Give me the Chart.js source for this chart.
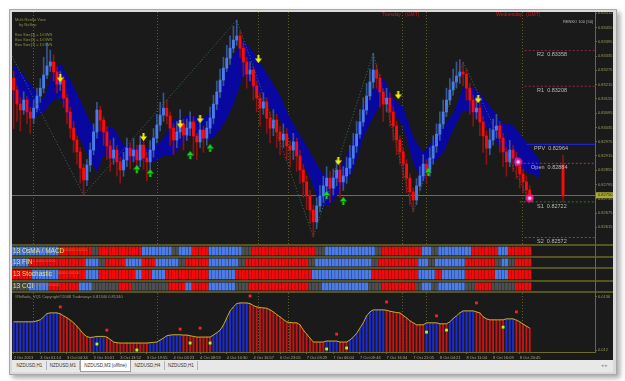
<!DOCTYPE html>
<html>
<head>
<meta charset="utf-8">
<title>NZDUSD,M3 (offline)</title>
<script src="https://cdn.jsdelivr.net/npm/chart.js@4.4.1/dist/chart.umd.min.js"></script>
<style>
  body { margin: 0; width: 625px; height: 381px; background: #ffffff; overflow: hidden; font-family: 'Liberation Sans', Arial, sans-serif; }
  #frame { position: absolute; left: 9px; top: 9px; width: 606px; height: 364px; background: #dadada; border: 1px solid #a8a8a8; box-shadow: 3px 3px 5px rgba(0,0,0,0.35); }
  #pane { position: absolute; left: 12px; top: 12px; width: 601px; height: 348px; background: #1a1a1a; }
  canvas { position: absolute; left: 12px; }
  .sep { position: absolute; left: 12px; width: 601px; height: 2px; background: #55551f; }
  .txt { position: absolute; white-space: nowrap; line-height: 1; }
  .olive { color: #8e8e3e; font-size: 4px; }
  .day { color: #c81e1e; font-size: 5px; top: 12px; }
  .strip { color: #e4e070; font-size: 6.5px; left: 13px; }
  .zero { color: #c87020; font-size: 3.5px; }
  #tabs { position: absolute; left: 12px; top: 360px; width: 601px; height: 12px; background: #e8e8e8; }
  .tab { position: absolute; top: 361px; height: 9px; line-height: 9px; font-size: 4.5px; color: #333; text-align: center; border-right: 1px solid #b4b4b4; }
  .tab.on { top: 360px; height: 11px; line-height: 11px; background: #ffffff; border: 1px solid #a0a0a0; border-top: none; }
</style>
</head>
<body>
<div id="frame"></div>
<div id="pane"></div>

<canvas id="mainChart" width="601" height="232" style="top:12px"></canvas>
<div class="sep" style="top:244px"></div>
<canvas id="osmaStrip" width="601" height="10" style="top:246px"></canvas>
<div class="sep" style="top:256px"></div>
<canvas id="finStrip" width="601" height="9" style="top:258px"></canvas>
<div class="sep" style="top:267px"></div>
<canvas id="stochStrip" width="601" height="11" style="top:269px"></canvas>
<div class="sep" style="top:280px"></div>
<canvas id="cciStrip" width="601" height="9" style="top:282px"></canvas>
<div class="sep" style="top:291px"></div>
<canvas id="vqChart" width="601" height="67" style="top:293px"></canvas>
<div style="position:absolute;left:595px;top:12px;width:1px;height:340px;background:#6b6b2b"></div>

<div class="txt olive" style="left:15px;top:18px">Multi Renko View</div>
<div class="txt olive" style="left:19px;top:23px">by NoSep</div>
<div class="txt olive" style="left:15px;top:33px">Box Size[3] = DOWN</div>
<div class="txt olive" style="left:15px;top:38px">Box Size[5] = DOWN</div>
<div class="txt olive" style="left:15px;top:43px">Box Size[7] = DOWN</div>
<div class="txt day" style="left:382px">Tuesday</div>
<div class="txt day" style="left:405px">(GMT)</div>
<div class="txt day" style="left:496px">Wednesday</div>
<div class="txt day" style="left:526px">(GMT)</div>
<div class="txt" style="left:563px;top:20px;font-size:4px;color:#b8b8b8">RENKO 100 (50)</div>

<div class="txt strip" style="top:248px">13 OsMA / MACD</div>
<div class="txt zero" style="left:61px;top:249px">0.00000 0.00000</div>
<div class="txt strip" style="top:259px">13 FIN</div>
<div class="txt zero" style="left:33px;top:260px">0.0000 0.0000</div>
<div class="txt strip" style="top:271px">13 Stochastic</div>
<div class="txt zero" style="left:53px;top:272px">0.00000 0.00000</div>
<div class="txt strip" style="top:283px">13 CCI</div>
<div class="txt zero" style="left:33px;top:284px">0.00000 0.00000</div>
<div class="txt" style="left:15px;top:295px;font-size:4px;color:#9a9a66">#Rellada_VQ1 Copyright©2008 Tradeways 0.81340 0.81340</div>

<div id="tabs"></div>
<div class="tab" style="left:13px;width:33px">NZDUSD,H1</div>
<div class="tab" style="left:47px;width:32px">NZDUSD,M1</div>
<div class="tab on" style="left:80px;width:49px">NZDUSD,M3 (offline)</div>
<div class="tab" style="left:131px;width:33px">NZDUSD,H4</div>
<div class="tab" style="left:165px;width:32px">NZDUSD,H1</div>
<div class="txt" style="left:601px;top:363px;font-size:5px;color:#999;font-family:'DejaVu Sans'">◂ ▸</div>

<script>
// prices are in points (1e-5), candle index 0 = 2 Oct 2013
const opens = [
  83242, 83192, 83133, 83108, 83150, 83100, 83074, 83116, 83167, 83200,
  83255, 83293, 83310, 83268, 83217, 83234, 83158, 83100, 83032, 82982,
  82932, 82864, 82814, 82877, 82940, 83016, 83108, 83066, 83016, 82957,
  82906, 82940, 82890, 82856, 82898, 82948, 82915, 82940, 82898, 82961,
  82906, 82890, 82940, 82990, 83045, 83087, 83116, 83083, 83032, 82982,
  83016, 83049, 83003, 83032, 83058, 82999, 82974, 83024, 82990, 83032,
  83074, 83133, 83184, 83234, 83284, 83326, 83368, 83402, 83419, 83368,
  83310, 83259, 83276, 83209, 83158, 83116, 83142, 83074, 83032, 83066,
  83016, 82982, 83007, 82957, 82940, 82974, 82915, 82856, 82806, 82747,
  82688, 82638, 82705, 82747, 82789, 82822, 82780, 82822, 82856, 82806,
  82831, 82864, 82906, 82957, 83007, 83058, 83108, 83167, 83226, 83276,
  83242, 83184, 83133, 83158, 83100, 83041, 82982, 82932, 82881, 82822,
  82764, 82730, 82789, 82831, 82881, 82856, 82906, 82957, 83007, 83049,
  83100, 83150, 83192, 83226, 83251, 83268, 83259, 83200, 83150, 83100,
  83116, 83058, 82999, 82948, 82982, 83024, 83041, 82990, 82932, 82890,
  82940, 82906, 82873, 82839, 82806, 82772
];
const closes = [
  83192, 83133, 83108, 83150, 83100, 83074, 83116, 83167, 83200, 83255,
  83293, 83310, 83268, 83217, 83234, 83158, 83100, 83032, 82982, 82932,
  82864, 82814, 82877, 82940, 83016, 83108, 83066, 83016, 82957, 82906,
  82940, 82890, 82856, 82898, 82948, 82915, 82940, 82898, 82961, 82906,
  82890, 82940, 82990, 83045, 83087, 83116, 83083, 83032, 82982, 83016,
  83049, 83003, 83032, 83058, 82999, 82974, 83024, 82990, 83032, 83074,
  83133, 83184, 83234, 83284, 83326, 83368, 83402, 83419, 83368, 83310,
  83259, 83276, 83209, 83158, 83116, 83142, 83074, 83032, 83066, 83016,
  82982, 83007, 82957, 82940, 82974, 82915, 82856, 82806, 82747, 82688,
  82638, 82705, 82747, 82789, 82822, 82780, 82822, 82856, 82806, 82831,
  82864, 82906, 82957, 83007, 83058, 83108, 83167, 83226, 83276, 83242,
  83184, 83133, 83158, 83100, 83041, 82982, 82932, 82881, 82822, 82764,
  82730, 82789, 82831, 82881, 82856, 82906, 82957, 83007, 83049, 83100,
  83150, 83192, 83226, 83251, 83268, 83259, 83200, 83150, 83100, 83116,
  83058, 82999, 82948, 82982, 83024, 83041, 82990, 82932, 82890, 82940,
  82906, 82873, 82839, 82806, 82772, 82747
];
const highs = [
  83270, 83210, 83160, 83185, 83165, 83120, 83150, 83200, 83240, 83330,
  83390, 83360, 83340, 83290, 83270, 83250, 83175, 83120, 83060, 83000,
  82950, 82880, 82900, 82970, 83050, 83140, 83125, 83080, 83040, 82980,
  82990, 82960, 82910, 82930, 82990, 82970, 82990, 82960, 83000, 82990,
  82930, 82980, 83030, 83090, 83140, 83180, 83150, 83100, 83050, 83060,
  83110, 83070, 83070, 83100, 83080, 83010, 83060, 83040, 83060, 83120,
  83170, 83230, 83280, 83330, 83380, 83420, 83460, 83486, 83440, 83390,
  83330, 83310, 83290, 83230, 83180, 83180, 83160, 83100, 83110, 83090,
  83040, 83050, 83030, 82980, 83010, 82990, 82940, 82880, 82830, 82770,
  82710, 82740, 82790, 82830, 82870, 82850, 82860, 82900, 82880, 82870,
  82910, 82960, 83010, 83060, 83110, 83160, 83220, 83280, 83347, 83300,
  83260, 83200, 83200, 83180, 83120, 83060, 83000, 82950, 82900, 82840,
  82780, 82820, 82870, 82920, 82900, 82950, 83000, 83050, 83100, 83150,
  83200, 83240, 83280, 83310, 83320, 83310, 83280, 83220, 83170, 83160,
  83140, 83080, 83020, 83030, 83070, 83090, 83060, 83010, 82950, 82980,
  82960, 82930, 82890, 82860, 82830, 82790
];
const lows = [
  83030, 83060, 83020, 83090, 83050, 83010, 83050, 83100, 83140, 83180,
  83240, 83270, 83230, 83180, 83190, 83120, 83050, 82990, 82930, 82880,
  82800, 82751, 82790, 82850, 82920, 82990, 83020, 82960, 82900, 82850,
  82880, 82830, 82800, 82830, 82870, 82860, 82890, 82840, 82870, 82860,
  82810, 82860, 82910, 82970, 83020, 83060, 83050, 82960, 82920, 82950,
  82990, 82940, 82980, 83000, 82920, 82900, 82950, 82930, 82960, 83010,
  83050, 83110, 83160, 83210, 83270, 83300, 83350, 83380, 83330, 83250,
  83200, 83230, 83150, 83100, 83040, 83090, 83010, 82970, 83000, 82950,
  82920, 82950, 82900, 82870, 82900, 82850, 82800, 82740, 82690, 82630,
  82575, 82610, 82680, 82720, 82760, 82720, 82750, 82790, 82740, 82770,
  82800, 82840, 82880, 82930, 82990, 83040, 83090, 83150, 83200, 83200,
  83120, 83060, 83100, 83040, 82980, 82920, 82880, 82820, 82760, 82710,
  82680, 82710, 82770, 82810, 82800, 82830, 82880, 82930, 82980, 83030,
  83080, 83130, 83170, 83200, 83220, 83210, 83150, 83090, 83040, 83070,
  83000, 82930, 82880, 82920, 82960, 82990, 82930, 82870, 82830, 82870,
  82850, 82820, 82780, 82760, 82730, 82722
];

// the separate candle to the right of the bars
const dayIdx = 165, dayOpen = 82877, dayHigh = 82919, dayLow = 82722, dayClose = 82747;
const bidPrice = 82750;

const bandIdx = [0, 3, 6, 9, 12, 14, 17, 20, 23, 25, 27, 30, 33, 38, 42, 45, 48, 53, 57, 60,
  63, 66, 69, 72, 75, 80, 83, 86, 89, 92, 95, 99, 102, 105, 108, 111, 114, 117, 120, 123,
  126, 129, 132, 135, 138, 141, 144, 147, 150, 153, 158];
const bandTop = [83297, 83255, 83200, 83150, 83276, 83305, 83234, 83150, 83058, 83024,
  83045, 83032, 82961, 82948, 82948, 82990, 83066, 83087, 83074, 83116,
  83234, 83339, 83402, 83352, 83284, 83171, 83074, 83003, 82932, 82856,
  82814, 82885, 82982, 83121, 83192, 83247, 83158, 83121, 82995, 82927,
  82982, 83037, 83095, 83205, 83205, 83163, 83108, 83053, 83045, 82990, 82898];
const bandBottom = [83150, 83116, 83074, 83100, 83150, 83158, 83058, 82982, 82898, 82848,
  82919, 82898, 82890, 82898, 82890, 82915, 82919, 83003, 82982, 82990,
  83045, 83129, 83255, 83200, 83150, 83066, 82982, 82906, 82822, 82709,
  82709, 82785, 82856, 82995, 83079, 83150, 83100, 83037, 82885, 82801,
  82885, 82927, 83024, 83108, 83095, 83053, 82995, 82927, 82885, 82856, 82822];

const zigIdx = [-0.5, 21, 67, 90, 108, 120, 135, 155];
const zigPrice = [83335, 82751, 83486, 82575, 83347, 82680, 83310, 82722];

const sellIdx = [14, 39, 50, 56, 73.5, 97.5, 115.5, 139.5];
const sellPrice = [83242, 82995, 83049, 83070, 83322, 82894, 83171, 83154];
const buyIdx = [37, 41, 53, 59, 94, 99, 124.5];
const buyPrice = [82860, 82843, 82919, 82948, 82751, 82726, 82848];
const markIdx = [151.5, 155];
const markPrice = [82890, 82738];

const pivotNames = ['R2', 'R1', 'PPV', 'Open', 'S1', 'S2'];
const pivotValues = [83358, 83208, 82964, 82884, 82722, 82572];
const pivotStart = [153.5, 153.5, 154, 152, 152, 153.5];
const pivotLabelAt = [157.2, 157.2, 156.3, 155.4, 157.2, 157.2];

const priceTicks = [83515, 83455, 83395, 83335, 83275, 83215, 83155, 83095, 83035, 82975,
  82915, 82855, 82795, 82735, 82675, 82615];

const sessionIdx = [5.8, 43, 73.4, 82.4, 116.6, 123.8, 152.6];

const timeIdx = [0, 8, 16, 24, 32, 40, 48, 56, 64, 72, 80, 88, 96, 104, 112, 120, 128, 136, 144, 152];
const timeLabels = ['2 Oct 2013', '3 Oct 01:14', '3 Oct 04:34', '3 Oct 10:01', '3 Oct 13:52',
  '3 Oct 19:55', '4 Oct 03:23', '4 Oct 08:59', '4 Oct 10:30', '4 Oct 16:57', '6 Oct 23:05',
  '7 Oct 03:29', '7 Oct 06:04', '7 Oct 09:46', '7 Oct 16:34', '7 Oct 21:05', '8 Oct 04:21',
  '8 Oct 11:04', '8 Oct 16:09', '8 Oct 20:45'];

// signal strips: r = red, b = blue, g = grey, one letter per bar
const osmaCells = ['bbbbbbbbbb', 'bbbb', 'rrrrrrrrrr', 'gg', 'rrrrrrrrrr', 'rrr', 'bbbbbbbbb', 'gg',
  'bbbb', 'rrrrr', 'bbbbbbbbbb', 'ggg', 'rrrrrrrrrr', 'rrrrrrrrr', 'ggg', 'bbbbbbbbbb', 'bbbbb',
  'gg', 'rrrrrrrrrr', 'rr', 'bbb', 'gg', 'bbbbbbbbbb', 'rrrrrrrr', 'bbb', 'rrrrrrr'].join('');
const finCells = ['bbbbb', 'rrrrrrrrrr', 'rrrrrrr', 'bbbb', 'gg', 'rrrrrr', 'bbbbb', 'rrrr', 'bbbbbbb',
  'gg', 'rrrrrrr', 'bbbbbbbbb', 'gg', 'rrrrrrrrrr', 'rrrrrrrrr', 'gg', 'bbbbbbbbbb', 'bbbbbbb', 'gg',
  'rrrrrrrrrr', 'rr', 'bbb', 'gg', 'bbbbbbbbb', 'rrrrrrrrr', 'gg', 'bb', 'gg', 'rrrrr'].join('');
const stochCells = ['rrrrrr', 'bbbbbbbb', 'rrrrrrrr', 'bbbb', 'rrrrrrrrrr', 'r', 'bb', 'rrr', 'bbbb',
  'rrrrrrrrrr', 'rrr', 'bbbbbbbb', 'rrrrrrrrrr', 'rrrrrrrrrr', 'rrr', 'bbbbbbbbbb', 'bbbbbbbb',
  'rrrrrrrrrr', 'rrrr', 'bbbbb', 'rr', 'bbbbbbb', 'rrrrrrrrr', 'bbbb', 'rrrrrrr'].join('');
const cciCells = ['ggggg', 'bbbbbb', 'rrrrrrrrr', 'bbbb', 'gggggggg', 'rrrr', 'gggggggggg', 'g', 'rrrrr',
  'bb', 'rrrrr', 'bbbbbbbb', 'gggg', 'rrrrrrrrrr', 'rrrrrrrr', 'gggg', 'bbbbbbbbbb', 'bbbb', 'gggg',
  'rrrrrrrrrr', 'gg', 'bbb', 'gg', 'bbbbbbbb', 'ggg', 'rrrrr', 'ggggggg', 'rrrrr'].join('');

// VQ oscillator in 1e-5 units
const vqValues = [
  1285, 1285, 1285, 1285, 1285, 1285, 1285, 1288, 1291, 1300,
  1310, 1312, 1312, 1312, 1309, 1303, 1297, 1290, 1282, 1272,
  1260, 1248, 1240, 1238, 1239, 1241, 1241, 1241, 1239, 1232,
  1224, 1222, 1221, 1221, 1221, 1221, 1221, 1221, 1221, 1221,
  1221, 1222, 1223, 1224, 1230, 1236, 1243, 1245, 1246, 1246,
  1246, 1245, 1245, 1243, 1241, 1239, 1239, 1239, 1239, 1239,
  1245, 1252, 1260, 1275, 1297, 1318, 1330, 1340, 1342, 1342,
  1342, 1340, 1334, 1330, 1328, 1327, 1326, 1321, 1315, 1307,
  1300, 1292, 1285, 1283, 1282, 1282, 1276, 1260, 1248, 1236,
  1224, 1224, 1224, 1224, 1227, 1227, 1227, 1227, 1224, 1224,
  1224, 1230, 1239, 1250, 1266, 1282, 1303, 1315, 1321, 1321,
  1321, 1321, 1320, 1317, 1315, 1313, 1312, 1304, 1297, 1288,
  1282, 1276, 1276, 1276, 1282, 1282, 1282, 1282, 1279, 1279,
  1279, 1285, 1295, 1303, 1312, 1318, 1318, 1318, 1318, 1315,
  1312, 1300, 1294, 1291, 1291, 1291, 1291, 1291, 1294, 1294,
  1294, 1290, 1285, 1278, 1272, 1266
];
const vqHighIdx = [14, 28, 50, 56, 71, 97, 112, 127, 139, 151];
const vqHighVal = [1330, 1260, 1263, 1266, 1363, 1248, 1345, 1303, 1342, 1315];
const vqLowIdx = [25, 37, 53, 59, 94, 100, 124, 130, 147];
const vqLowVal = [1218, 1200, 1221, 1221, 1203, 1206, 1254, 1260, 1269];
const vqTicks = [1360, 1200];

const FONT = "'Liberation Sans', Arial, sans-serif";
const OLIVE = '#6b6b2b';
const X_MIN = -0.5, X_MAX = 174.6;

function baseOptions() {
    return {
        responsive: false,
        animation: false,
        devicePixelRatio: 1,
        events: [],
        layout: { padding: 0, autoPadding: false },
        plugins: { legend: { display: false }, tooltip: { enabled: false } }
    };
}

function glyph(kind, color) {
    const c = document.createElement('canvas');
    const g = c.getContext('2d');
    if (kind === 'ring') {
        c.width = 9; c.height = 9;
        g.fillStyle = '#e0208c';
        g.beginPath(); g.arc(4.5, 4.5, 4, 0, Math.PI * 2); g.fill();
        g.fillStyle = '#ffc8ec';
        g.beginPath(); g.arc(4.5, 4.5, 1.8, 0, Math.PI * 2); g.fill();
        return c;
    }
    c.width = 7; c.height = 8;
    g.fillStyle = color;
    g.beginPath();
    if (kind === 'down') {
        g.rect(2.5, 0, 2, 4);
        g.moveTo(0, 3.5); g.lineTo(7, 3.5); g.lineTo(3.5, 8);
    } else {
        g.rect(2.5, 4, 2, 4);
        g.moveTo(0, 4.5); g.lineTo(7, 4.5); g.lineTo(3.5, 0);
    }
    g.closePath();
    g.fill();
    return c;
}

function points(xs, ys) {
    return xs.map((x, k) => ({ x: x, y: ys[k] }));
}

const sessionLines = {
    id: 'sessionLines',
    beforeDatasetsDraw(chart) {
        const { ctx, chartArea, scales } = chart;
        ctx.save();
        ctx.strokeStyle = '#5e5e26';
        ctx.lineWidth = 1;
        ctx.setLineDash([1, 2]);
        sessionIdx.forEach(v => {
            const px = Math.round(scales.x.getPixelForValue(v)) + 0.5;
            ctx.beginPath();
            ctx.moveTo(px, chartArea.top);
            ctx.lineTo(px, chartArea.bottom);
            ctx.stroke();
        });
        ctx.restore();
    }
};

const priceOverlay = {
    id: 'priceOverlay',
    beforeDatasetsDraw(chart) {
        const { ctx, chartArea, scales } = chart;
        const py = Math.round(scales.y.getPixelForValue(bidPrice)) + 0.5;
        ctx.save();
        ctx.strokeStyle = '#5f6d7a';
        ctx.lineWidth = 1;
        ctx.beginPath();
        ctx.moveTo(chartArea.left, py);
        ctx.lineTo(chartArea.right, py);
        ctx.stroke();
        ctx.restore();
    },
    afterDatasetsDraw(chart) {
        const { ctx, chartArea, scales } = chart;
        ctx.save();
        ctx.font = '5.5px ' + FONT;
        ctx.fillStyle = '#bcbcbc';
        ctx.textBaseline = 'top';
        pivotNames.forEach((name, k) => {
            const px = scales.x.getPixelForValue(pivotLabelAt[k]);
            const py = scales.y.getPixelForValue(pivotValues[k]) + 1.5;
            ctx.fillText(name + '  ' + (pivotValues[k] / 1e5).toFixed(5), px, py);
        });
        const by = scales.y.getPixelForValue(bidPrice);
        ctx.fillStyle = '#a9a935';
        ctx.fillRect(chartArea.right + 1, by - 3, chart.width - chartArea.right - 1, 6);
        ctx.fillStyle = '#1e1e1e';
        ctx.font = '4px ' + FONT;
        ctx.textBaseline = 'middle';
        ctx.fillText((bidPrice / 1e5).toFixed(5), chartArea.right + 3, by);
        ctx.restore();
    }
};

// main price panel
const wickData = opens.map((o, i) => ({ x: i, y: [lows[i], highs[i]] }));
wickData.push({ x: dayIdx, y: [dayLow, dayHigh] });
const bodyData = opens.map((o, i) => ({ x: i, y: [o, closes[i]] }));
bodyData.push({ x: dayIdx, y: [dayOpen, dayClose] });
const isUp = bodyData.map(d => d.y[1] >= d.y[0]);

const pivotColors = ['#8c2444', '#8c2444', '#2424f0', '#a82c84', '#2e7a34', '#2e7a34'];
const pivotSets = pivotNames.map((name, k) => ({
    type: 'line',
    label: name,
    data: [{ x: pivotStart[k], y: pivotValues[k] }, { x: X_MAX, y: pivotValues[k] }],
    borderColor: pivotColors[k],
    borderWidth: 1,
    borderDash: name === 'PPV' ? [] : [2, 2],
    pointRadius: 0,
    order: 2
}));

new Chart(document.getElementById('mainChart').getContext('2d'), {
    type: 'bar',
    data: {
        datasets: [
            { type: 'line', label: 'band top', data: points(bandIdx, bandTop), borderWidth: 0, pointRadius: 0, fill: false, order: 9 },
            { type: 'line', label: 'band bottom', data: points(bandIdx, bandBottom), borderWidth: 0, pointRadius: 0, fill: '-1', backgroundColor: '#0808a0', order: 9 },
            { type: 'bar', label: 'wicks', data: wickData, backgroundColor: isUp.map(u => u ? '#36568f' : '#8c1212'), barThickness: 1, grouped: false, order: 4 },
            { type: 'bar', label: 'bodies', data: bodyData, backgroundColor: isUp.map(u => u ? '#4a7cee' : '#fa0c0c'), barThickness: 2.2, minBarLength: 1, grouped: false, order: 3 },
            { type: 'line', label: 'zigzag', data: points(zigIdx, zigPrice), borderColor: '#3f6c5a', borderWidth: 1, borderDash: [1, 2], pointRadius: 0, order: 2 },
            ...pivotSets,
            { type: 'line', label: 'sell', data: points(sellIdx, sellPrice), showLine: false, pointStyle: glyph('down', '#f2f200'), order: 1 },
            { type: 'line', label: 'buy', data: points(buyIdx, buyPrice), showLine: false, pointStyle: glyph('up', '#10e010'), order: 1 },
            { type: 'line', label: 'marks', data: points(markIdx, markPrice), showLine: false, pointStyle: glyph('ring'), order: 1 }
        ]
    },
    options: Object.assign(baseOptions(), {
        scales: {
            x: { type: 'linear', min: X_MIN, max: X_MAX, display: false, offset: false },
            y: {
                position: 'right', min: 82545, max: 83520,
                afterBuildTicks: s => { s.ticks = priceTicks.map(v => ({ value: v })); },
                afterFit: s => { s.width = 18; s.paddingTop = 0; s.paddingBottom = 0; },
                ticks: { autoSkip: false, padding: 1, color: '#9c9c5e', font: { family: FONT, size: 4 }, callback: v => (v / 1e5).toFixed(5) },
                grid: { drawOnChartArea: false, tickLength: 2, color: OLIVE },
                border: { display: false }
            }
        }
    }),
    plugins: [sessionLines, priceOverlay]
});

// signal strips
function stripChart(id, cells) {
    const colors = { r: '#f20a0a', b: '#4c7ce8', g: '#4e4e4e' };
    const datasets = ['r', 'b', 'g'].map(k => ({
        type: 'bar',
        data: cells.split('').map((c, i) => (c === k ? { x: i, y: [0, 1] } : null)).filter(d => d),
        backgroundColor: colors[k],
        barThickness: 2.4,
        grouped: false
    }));
    const opts = baseOptions();
    opts.layout = { padding: { left: 0, top: 0, bottom: 0, right: 18 }, autoPadding: false };
    opts.scales = {
        x: { type: 'linear', min: X_MIN, max: X_MAX, display: false, offset: false },
        y: { display: false, min: -0.12, max: 1.12 }
    };
    new Chart(document.getElementById(id).getContext('2d'), { type: 'bar', data: { datasets }, options: opts });
}
stripChart('osmaStrip', osmaCells);
stripChart('finStrip', finCells);
stripChart('stochStrip', stochCells);
stripChart('cciStrip', cciCells);

// VQ oscillator
const vqColors = [];
vqValues.forEach((v, i) => {
    if (i === 0) { vqColors.push('#1e2ad2'); return; }
    const prev = vqValues[i - 1];
    if (v > prev) vqColors.push('#1e2ad2');
    else if (v < prev) vqColors.push('#c41414');
    else vqColors.push(vqColors[i - 1]);
});
const vqPoints = vqValues.map((v, i) => ({ x: i, y: v }));

new Chart(document.getElementById('vqChart').getContext('2d'), {
    type: 'bar',
    data: {
        datasets: [
            { type: 'line', label: 'VQ', data: vqPoints, borderColor: '#c8b21c', borderWidth: 1, pointRadius: 0, tension: 0, order: 2 },
            { type: 'bar', label: 'VQ bars', data: vqPoints, backgroundColor: vqColors, barThickness: 1.3, grouped: false, order: 3 },
            { type: 'line', label: 'high', data: points(vqHighIdx, vqHighVal), showLine: false, pointStyle: 'rect', pointRadius: 2, backgroundColor: '#ff2020', borderWidth: 0, order: 1 },
            { type: 'line', label: 'low', data: points(vqLowIdx, vqLowVal), showLine: false, pointStyle: 'rect', pointRadius: 2, backgroundColor: '#a8ff1c', borderWidth: 0, order: 1 }
        ]
    },
    options: Object.assign(baseOptions(), {
        scales: {
            x: {
                type: 'linear', min: X_MIN, max: X_MAX, offset: false, position: 'bottom',
                afterBuildTicks: s => { s.ticks = timeIdx.map(v => ({ value: v })); },
                afterFit: s => { s.height = 8; s.paddingLeft = 0; s.paddingRight = 0; },
                ticks: { align: 'start', autoSkip: false, maxRotation: 0, padding: 1, color: '#a8a87c', font: { family: FONT, size: 4 }, callback: v => timeLabels[timeIdx.indexOf(v)] },
                grid: { drawOnChartArea: false, tickLength: 2, color: OLIVE, offset: false },
                border: { display: true, color: OLIVE, width: 1 }
            },
            y: {
                position: 'right', min: 1194, max: 1372,
                afterBuildTicks: s => { s.ticks = vqTicks.map(v => ({ value: v })); },
                afterFit: s => { s.width = 18; s.paddingTop = 0; s.paddingBottom = 0; },
                ticks: { autoSkip: false, padding: 1, color: '#9c9c5e', font: { family: FONT, size: 4 }, callback: v => String(v / 1e5) },
                grid: { drawOnChartArea: false, tickLength: 2, color: OLIVE },
                border: { display: false }
            }
        }
    }),
    plugins: [sessionLines]
});
</script>
</body>
</html>
